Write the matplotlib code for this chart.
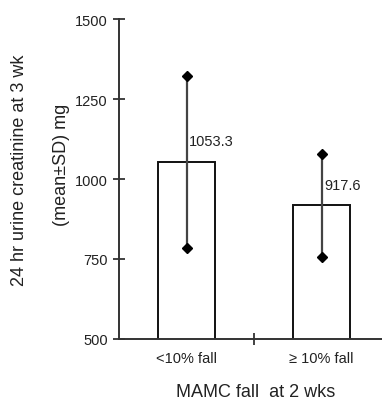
import matplotlib
matplotlib.use("Agg")
import matplotlib.pyplot as plt

plt.rcParams['font.family'] = ['Liberation Sans', 'DejaVu Sans']

groups = ['<10% fall', '\u2265 10% fall']
means = [1053.3, 917.6]
sds = [268.0, 161.0]
value_labels = ['1053.3', '917.6']
yticks = [500, 750, 1000, 1250, 1500]

fig = plt.figure(figsize=(3.82, 4.02), dpi=100)
ax = fig.add_axes([119 / 382, 62 / 402, 270 / 382, 320 / 402])

x = list(range(len(groups)))
ax.bar(x, means, width=0.415, color='white', edgecolor='#111111', linewidth=1.4, zorder=2)
ax.errorbar(x, means, yerr=sds, fmt='none', ecolor='#444444', elinewidth=1.6, capsize=0, zorder=3)
# diamond ends of the error bars
lo = [m - s for m, s in zip(means, sds)]
hi = [m + s for m, s in zip(means, sds)]
ax.plot(x, lo, 'D', color='black', markersize=5, zorder=4, linestyle='none')
ax.plot(x, hi, 'D', color='black', markersize=5, zorder=4, linestyle='none')

for xi, m, lab in zip(x, means, value_labels):
    ax.annotate(lab, (xi, m), xytext=(2, 15), textcoords='offset points',
                ha='left', va='center', fontsize=10.5, color='#222222')

ax.set_xlim(-0.5, 1.5)
ax.set_ylim(500, 1500)
ax.set_yticks(yticks)
ax.set_xticks(x)
ax.set_xticklabels(groups, fontsize=10.5, color='#222222')
ax.set_xticks([0.5], minor=True)
ax.tick_params(axis='x', which='major', length=0, pad=9)
ax.tick_params(axis='x', which='minor', direction='inout', length=8, width=1.3, color='#333333')
ax.tick_params(axis='y', direction='inout', length=8, width=1.3, color='#333333',
               labelsize=10.5, labelcolor='#222222', pad=4)

for side in ['top', 'right']:
    ax.spines[side].set_visible(False)
for side in ['left', 'bottom']:
    ax.spines[side].set_linewidth(1.4)
    ax.spines[side].set_color('#333333')

fig.text(20 / 382, 1 - 170 / 402, '24 hr urine creatinine at 3 wk', rotation=90,
         ha='center', va='center', fontsize=13, color='#222222')
fig.text(62 / 382, 1 - 165 / 402, '(mean\u00b1SD) mg', rotation=90,
         ha='center', va='center', fontsize=13, color='#222222')
fig.text(256 / 382, 1 - 393 / 402, 'MAMC fall  at 2 wks', ha='center', va='center',
         fontsize=13, color='#222222')

fig.savefig('out.png', dpi=100)
